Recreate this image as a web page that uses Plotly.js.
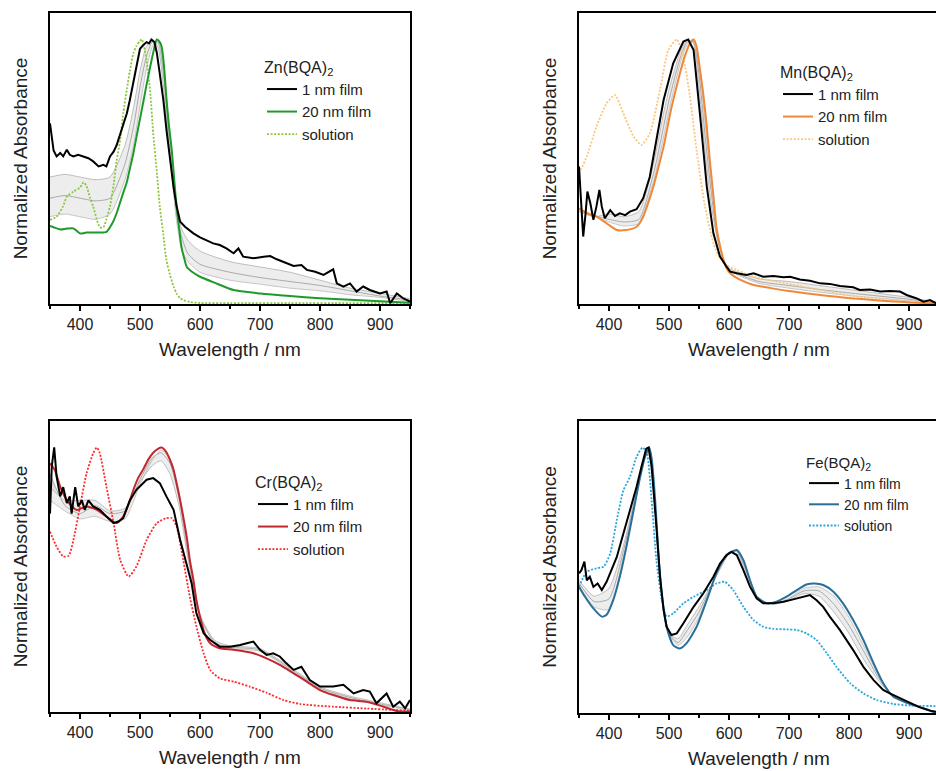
<!DOCTYPE html>
<html>
<head>
<meta charset="utf-8">
<script src="https://cdn.plot.ly/plotly-3.0.1.min.js"></script>
<style>
html, body { margin: 0; padding: 0; overflow: hidden; background: #fff; }
#chart { width: 940px; height: 771px; }
</style>
</head>
<body>
<div id="chart"></div>
<script>
// ---------- shared axis data ----------
const xTickVals = [400, 500, 600, 700, 800, 900];
const xTickLabels = ['400', '500', '600', '700', '800', '900'];
const xMinorVals = [350, 450, 550, 650, 750, 850, 950];
const seriesNames = ['1 nm film', '20 nm film', 'solution'];
const panelTitles = ['Zn(BQA)<sub>2</sub>', 'Mn(BQA)<sub>2</sub>', 'Cr(BQA)<sub>2</sub>', 'Fe(BQA)<sub>2</sub>'];

// ---------- Zn(BQA)2 ----------
const znFilm1X = [350,353,356,361,367,372,378,383,389,397,406,414,422,431,439,444,450,456,461,467,472,478,483,489,494,500,506,511,515,519,524,528,533,539,544,550,556,561,567,575,589,600,611,622,633,644,656,664,672,689,706,717,728,744,756,769,778,792,806,822,828,839,850,861,872,883,900,911,917,928,939,950];
const znFilm1Y = [0.683,0.62,0.58,0.558,0.571,0.558,0.583,0.564,0.558,0.564,0.558,0.551,0.539,0.52,0.526,0.52,0.558,0.576,0.6,0.64,0.68,0.72,0.77,0.84,0.9,0.965,0.98,0.99,0.985,1.0,0.99,0.95,0.87,0.77,0.66,0.54,0.44,0.37,0.311,0.292,0.267,0.252,0.239,0.229,0.223,0.21,0.192,0.21,0.179,0.173,0.179,0.181,0.169,0.154,0.144,0.147,0.129,0.122,0.11,0.131,0.078,0.066,0.078,0.047,0.066,0.053,0.04,0.047,0.003,0.04,0.021,0.009];
const znFilm20X = [350,356,367,378,389,400,411,422,433,444,455,461,467,472,478,483,489,494,500,506,511,517,522,528,533,536,540,544,548,553,557,561,565,569,574,578,589,600,625,656,700,750,800,850,900,950];
const znFilm20Y = [0.295,0.29,0.282,0.285,0.286,0.267,0.27,0.27,0.27,0.273,0.31,0.343,0.385,0.42,0.46,0.51,0.57,0.63,0.7,0.77,0.83,0.897,0.95,1.0,0.99,0.973,0.9,0.78,0.68,0.58,0.47,0.368,0.29,0.217,0.17,0.14,0.118,0.103,0.08,0.053,0.04,0.03,0.022,0.016,0.01,0.005];
const znSolX = [350,361,372,378,389,400,406,411,417,422,428,433,439,444,450,456,461,467,472,478,483,489,494,500,503,508,511,517,522,528,533,539,544,550,556,561,567,572,583,600,650,750,850,950];
const znSolY = [0.318,0.33,0.37,0.406,0.425,0.44,0.46,0.445,0.4,0.368,0.32,0.29,0.29,0.32,0.368,0.45,0.54,0.62,0.72,0.81,0.88,0.948,0.975,0.995,1.0,0.96,0.92,0.8,0.645,0.5,0.368,0.26,0.166,0.11,0.066,0.04,0.022,0.015,0.008,0.004,0.003,0.003,0.003,0.003];
const znGrayX = [350,375,400,425,450,475,490,500,510,520,530,540,550,560,570,580,600,650,700,750,800,850,900,950];
const znGray1Y = [0.48,0.49,0.48,0.47,0.48,0.6,0.75,0.88,0.97,1.0,0.97,0.8,0.56,0.36,0.28,0.24,0.2,0.16,0.14,0.12,0.09,0.06,0.04,0.02];
const znGray2Y = [0.40,0.41,0.40,0.39,0.40,0.53,0.68,0.82,0.93,0.99,0.99,0.85,0.58,0.35,0.25,0.19,0.15,0.12,0.1,0.085,0.07,0.05,0.03,0.015];
const znGray3Y = [0.33,0.34,0.33,0.32,0.34,0.47,0.61,0.75,0.88,0.97,1.0,0.88,0.6,0.33,0.2,0.16,0.12,0.09,0.075,0.06,0.05,0.035,0.025,0.01];

// ---------- Mn(BQA)2 ----------
const mnFilm1X = [350,353,357,361,364,369,374,379,384,388,393,402,410,418,427,435,446,457,468,479,491,507,524,532,541,552,563,574,585,596,602,613,629,641,657,674,691,702,718,735,752,768,785,807,818,835,852,868,885,896,913,924,935,945,950];
const mnFilm1Y = [0.52,0.393,0.255,0.343,0.425,0.38,0.318,0.368,0.431,0.368,0.324,0.355,0.333,0.343,0.336,0.349,0.358,0.4,0.481,0.62,0.771,0.91,0.992,1.0,0.96,0.708,0.444,0.267,0.179,0.141,0.122,0.116,0.11,0.116,0.103,0.106,0.101,0.103,0.093,0.088,0.078,0.076,0.068,0.063,0.053,0.055,0.047,0.049,0.047,0.034,0.021,0.009,0.015,0.003,0.003];
const mnFilm20X = [350,363,379,396,413,429,446,457,468,474,485,491,502,507,518,524,530,535,541,546,552,557,563,568,574,579,585,591,596,602,620,641,670,696,724,752,780,807,835,863,900,950];
const mnFilm20Y = [0.362,0.343,0.33,0.305,0.28,0.28,0.292,0.33,0.4,0.444,0.54,0.595,0.72,0.77,0.87,0.92,0.96,0.985,1.0,0.973,0.88,0.796,0.67,0.544,0.41,0.292,0.22,0.166,0.135,0.116,0.09,0.072,0.06,0.05,0.042,0.034,0.027,0.021,0.016,0.011,0.006,0.003];
const mnSolX = [350,363,379,396,410,424,441,454,468,485,499,513,524,535,546,560,574,585,596,613,641,696,752,807,863,900,950];
const mnSolY = [0.494,0.557,0.67,0.759,0.79,0.72,0.633,0.601,0.645,0.81,0.96,1.0,0.93,0.784,0.58,0.368,0.23,0.173,0.147,0.128,0.103,0.078,0.053,0.03,0.015,0.008,0.005];
const mnGrayX = [350,375,400,425,450,475,490,500,510,520,530,540,550,560,570,580,590,600,650,700,750,800,850,900,950];
const mnGray1Y = [0.35,0.33,0.34,0.33,0.35,0.54,0.71,0.81,0.89,0.96,0.995,0.99,0.82,0.58,0.38,0.25,0.17,0.135,0.095,0.085,0.07,0.055,0.04,0.025,0.005];
const mnGray2Y = [0.36,0.335,0.32,0.31,0.32,0.5,0.66,0.77,0.86,0.94,0.99,0.995,0.87,0.64,0.43,0.26,0.17,0.13,0.085,0.07,0.055,0.042,0.03,0.018,0.004];
const mnGray3Y = [0.36,0.335,0.31,0.295,0.305,0.47,0.62,0.73,0.83,0.92,0.98,1.0,0.9,0.69,0.47,0.27,0.17,0.128,0.078,0.06,0.045,0.032,0.022,0.012,0.003];

// ---------- Cr(BQA)2 ----------
const crFilm1X = [350,353,357,361,367,372,378,383,386,392,397,403,408,414,422,433,444,456,464,472,483,494,503,511,522,533,544,556,567,578,586,594,606,617,633,650,667,678,689,700,711,722,733,744,756,769,783,800,822,839,856,872,883,894,911,922,933,942,950];
const crFilm1Y = [0.75,0.93,1.0,0.89,0.815,0.85,0.79,0.815,0.75,0.85,0.777,0.8,0.764,0.8,0.777,0.764,0.739,0.714,0.72,0.733,0.8,0.84,0.86,0.878,0.884,0.865,0.815,0.764,0.65,0.55,0.487,0.373,0.298,0.272,0.247,0.247,0.253,0.26,0.266,0.235,0.216,0.222,0.21,0.184,0.159,0.171,0.121,0.096,0.096,0.103,0.07,0.083,0.077,0.033,0.07,0.02,0.039,0.014,0.045];
const crFilm20X = [350,358,367,378,394,411,428,444,461,472,480,489,497,506,514,522,530,536,543,550,556,561,567,572,578,583,589,594,600,606,611,617,625,633,656,689,711,733,756,778,800,822,850,878,906,928,950];
const crFilm20Y = [0.94,0.915,0.852,0.8,0.764,0.777,0.764,0.739,0.714,0.739,0.78,0.84,0.885,0.92,0.955,0.98,0.995,1.0,0.985,0.953,0.915,0.865,0.8,0.739,0.66,0.575,0.5,0.424,0.36,0.31,0.28,0.26,0.248,0.241,0.235,0.222,0.203,0.178,0.146,0.115,0.083,0.064,0.045,0.039,0.02,0.004,0.001];
const crSolX = [350,361,372,381,389,400,411,422,428,433,444,456,467,481,494,511,528,544,553,561,572,583,594,606,617,633,656,683,711,739,767,822,878,950];
const crSolY = [0.682,0.625,0.588,0.59,0.65,0.777,0.903,0.978,1.0,0.978,0.852,0.714,0.575,0.512,0.55,0.65,0.714,0.733,0.733,0.701,0.575,0.436,0.323,0.222,0.159,0.127,0.115,0.096,0.073,0.045,0.03,0.02,0.013,0.005];
const crGrayX = [350,375,400,425,450,475,500,520,535,550,565,580,600,625,650,700,750,800,850,900,950];
const crGray1Y = [0.85,0.8,0.8,0.8,0.76,0.77,0.87,0.93,0.95,0.9,0.78,0.58,0.36,0.27,0.25,0.24,0.17,0.095,0.06,0.035,0.01];
const crGray2Y = [0.9,0.78,0.75,0.78,0.75,0.76,0.88,0.96,0.98,0.94,0.81,0.6,0.36,0.26,0.245,0.235,0.165,0.09,0.055,0.03,0.01];
const crGray3Y = [0.8,0.76,0.73,0.74,0.72,0.73,0.86,0.95,0.99,0.96,0.83,0.61,0.37,0.265,0.24,0.23,0.16,0.085,0.05,0.028,0.005];

// ---------- Fe(BQA)2 ----------
const feFilm1X = [350,354,359,363,368,374,381,388,396,402,413,424,435,446,454,462,466,471,479,485,491,496,504,513,524,541,557,574,585,596,604,613,624,635,646,657,674,691,707,724,735,746,757,768,785,807,824,841,857,868,885,902,918,935,945];
const feFilm1Y = [0.526,0.538,0.57,0.5,0.513,0.475,0.488,0.463,0.494,0.526,0.588,0.676,0.764,0.852,0.927,0.996,1.0,0.93,0.701,0.513,0.388,0.325,0.294,0.3,0.338,0.4,0.45,0.513,0.563,0.595,0.607,0.595,0.538,0.476,0.432,0.413,0.413,0.419,0.428,0.438,0.444,0.425,0.4,0.363,0.312,0.237,0.174,0.124,0.087,0.074,0.055,0.036,0.021,0.009,0.005];
const feFilm20X = [350,360,374,388,396,407,418,429,441,452,460,467,471,477,482,488,496,507,518,529,546,563,579,596,613,624,635,646,663,679,696,713,729,743,757,774,790,807,824,841,857,874,891,907,924,940,950];
const feFilm20Y = [0.476,0.438,0.394,0.363,0.37,0.425,0.513,0.626,0.764,0.89,0.965,1.0,0.96,0.8,0.614,0.45,0.325,0.256,0.243,0.262,0.325,0.425,0.526,0.595,0.614,0.576,0.5,0.438,0.413,0.419,0.438,0.463,0.484,0.488,0.482,0.457,0.413,0.35,0.275,0.187,0.112,0.061,0.043,0.03,0.018,0.005,0.002];
const feSolX = [350,363,379,391,402,413,424,435,446,456,463,471,479,488,496,507,524,541,563,579,593,607,624,641,657,674,696,713,729,746,763,779,802,824,846,874,902,950];
const feSolY = [0.476,0.532,0.545,0.551,0.601,0.726,0.839,0.89,0.965,1.0,0.98,0.802,0.576,0.425,0.363,0.375,0.413,0.438,0.463,0.488,0.494,0.463,0.4,0.35,0.325,0.317,0.315,0.313,0.3,0.275,0.225,0.174,0.112,0.074,0.049,0.034,0.028,0.026];
const feGrayX = [350,375,400,425,440,455,465,475,485,500,515,530,550,575,600,612,625,650,675,700,725,750,775,800,825,850,875,900,950];
const feGray1Y = [0.5,0.44,0.47,0.64,0.78,0.93,0.99,0.82,0.5,0.3,0.28,0.33,0.4,0.5,0.6,0.61,0.55,0.43,0.41,0.425,0.45,0.44,0.38,0.3,0.2,0.12,0.06,0.037,0.0];
const feGray2Y = [0.49,0.42,0.43,0.62,0.77,0.93,1.0,0.83,0.5,0.3,0.265,0.31,0.38,0.5,0.6,0.612,0.56,0.425,0.412,0.43,0.46,0.46,0.41,0.33,0.23,0.13,0.06,0.038,0.0];
const feGray3Y = [0.48,0.4,0.39,0.6,0.76,0.92,1.0,0.85,0.5,0.3,0.255,0.285,0.36,0.5,0.6,0.613,0.565,0.425,0.413,0.433,0.47,0.475,0.44,0.36,0.25,0.14,0.06,0.039,0.0];

// ---------- build ----------
const W = 940, H = 771;
const FONT = '"Liberation Sans", Arial, Helvetica, sans-serif';
const panels = [
  { key: '', legend: 'legend', film1: [znFilm1X, znFilm1Y], film20: [znFilm20X, znFilm20Y], sol: [znSolX, znSolY],
    gray: [znGrayX, [znGray1Y, znGray2Y, znGray3Y]], c20: '#1f9a2a', cSol: '#8cc63f' },
  { key: '2', legend: 'legend2', film1: [mnFilm1X, mnFilm1Y], film20: [mnFilm20X, mnFilm20Y], sol: [mnSolX, mnSolY],
    gray: [mnGrayX, [mnGray1Y, mnGray2Y, mnGray3Y]], c20: '#f0883a', cSol: '#fbc77e' },
  { key: '3', legend: 'legend3', film1: [crFilm1X, crFilm1Y], film20: [crFilm20X, crFilm20Y], sol: [crSolX, crSolY],
    gray: [crGrayX, [crGray1Y, crGray2Y, crGray3Y]], c20: '#c1272d', cSol: '#ff2a2a' },
  { key: '4', legend: 'legend4', film1: [feFilm1X, feFilm1Y], film20: [feFilm20X, feFilm20Y], sol: [feSolX, feSolY],
    gray: [feGrayX, [feGray1Y, feGray2Y, feGray3Y]], c20: '#2a6f98', cSol: '#2aa6e0' }
];
const grayColors = ['#bdbdbd', '#a9a9a9', '#c6c6c6'];

const traces = [];
panels.forEach(p => {
  const xa = 'x' + p.key, ya = 'y' + p.key;
  p.gray[1].forEach((gy, i) => {
    traces.push({ x: p.gray[0], y: gy, xaxis: xa, yaxis: ya, mode: 'lines', showlegend: false, hoverinfo: 'skip',
      fill: i === 0 ? 'none' : 'tonexty', fillcolor: 'rgba(190,190,190,0.28)',
      line: { color: grayColors[i], width: 1, shape: 'spline', smoothing: 0.6 } });
  });
  traces.push({ x: p.sol[0], y: p.sol[1], xaxis: xa, yaxis: ya, mode: 'lines', name: seriesNames[2], legend: p.legend, legendrank: 3,
    line: { color: p.cSol, width: 1.8, dash: '2px,1.6px', shape: 'spline', smoothing: 0.6 } });
  traces.push({ x: p.film20[0], y: p.film20[1], xaxis: xa, yaxis: ya, mode: 'lines', name: seriesNames[1], legend: p.legend, legendrank: 2,
    line: { color: p.c20, width: 2, shape: 'spline', smoothing: 0.6 } });
  traces.push({ x: p.film1[0], y: p.film1[1], xaxis: xa, yaxis: ya, mode: 'lines', name: seriesNames[0], legend: p.legend, legendrank: 1,
    line: { color: '#000000', width: 2 } });
});

function px(x) { return x / W; }
function py(y) { return (H - y) / H; }

function xAxis(domL, domR, anchor) {
  return {
    domain: [px(domL), px(domR)], anchor: anchor, range: [350, 950],
    tickmode: 'array', tickvals: xTickVals, ticktext: xTickLabels,
    ticks: 'outside', ticklen: 5, tickwidth: 1.5, tickcolor: '#000',
    minor: { tickmode: 'array', tickvals: xMinorVals, ticks: 'outside', ticklen: 3, tickwidth: 1.5, tickcolor: '#000' },
    showline: true, mirror: true, linewidth: 2, linecolor: '#000',
    showgrid: false, zeroline: false,
    tickfont: { family: FONT, size: 16, color: '#222' },
    title: { text: 'Wavelength / nm', font: { family: FONT, size: 19, color: '#222' }, standoff: 10 }
  };
}
function yAxis(domB, domT, anchor) {
  return {
    domain: [py(domB), py(domT)], anchor: anchor, range: [0, 1.1],
    showticklabels: false, ticks: '', showgrid: false, zeroline: false,
    showline: true, mirror: true, linewidth: 2, linecolor: '#000',
    title: { text: 'Normalized Absorbance', font: { family: FONT, size: 19, color: '#222' }, standoff: 15 }
  };
}
function legendAt(x, y, title, size, titleSize) {
  return {
    x: px(x), y: py(y), xanchor: 'left', yanchor: 'top', xref: 'paper', yref: 'paper',
    traceorder: 'normal',
    bgcolor: 'rgba(0,0,0,0)', borderwidth: 0, tracegroupgap: 0, itemwidth: 30,
    font: { family: FONT, size: size, color: '#222' },
    title: { text: title, font: { family: FONT, size: titleSize, color: '#222' } }
  };
}

const layout = {
  width: W, height: H, margin: { l: 0, r: 0, t: 0, b: 0 },
  paper_bgcolor: '#fff', plot_bgcolor: '#fff', showlegend: true,
  font: { family: FONT, color: '#222' },
  xaxis: xAxis(50, 410, 'y'),   yaxis: yAxis(304, 13, 'x'),
  xaxis2: xAxis(579, 939, 'y2'), yaxis2: yAxis(304, 13, 'x2'),
  xaxis3: xAxis(50, 410, 'y3'), yaxis3: yAxis(712, 421, 'x3'),
  xaxis4: xAxis(579, 939, 'y4'), yaxis4: yAxis(713, 421, 'x4'),
  legend: legendAt(262, 52, panelTitles[0], 15, 16),
  legend2: legendAt(778, 57, panelTitles[1], 15, 16),
  legend3: legendAt(253, 467, panelTitles[2], 15, 16),
  legend4: legendAt(804, 448, panelTitles[3], 14, 15)
};

Plotly.newPlot('chart', traces, layout, { staticPlot: true, displayModeBar: false });
</script>
</body>
</html>
